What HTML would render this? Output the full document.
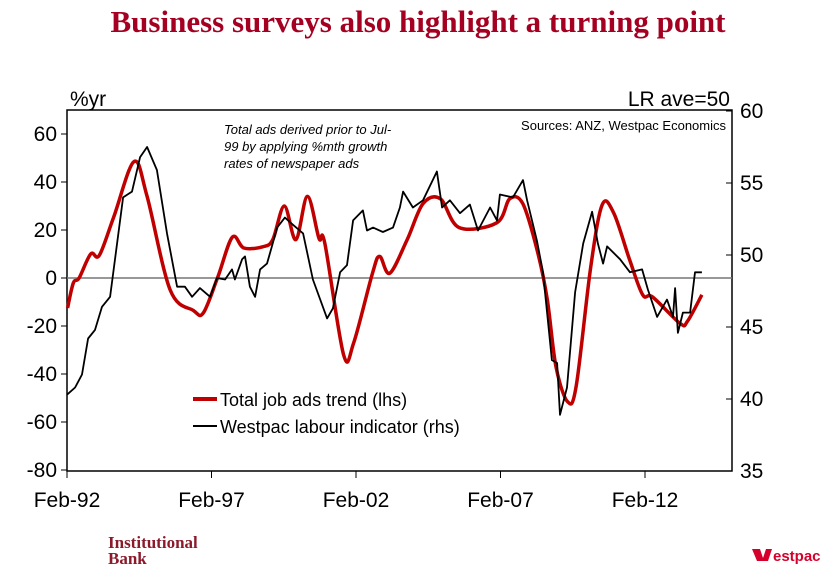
<!DOCTYPE html>
<html><head><meta charset="utf-8">
<style>
body{margin:0;width:836px;height:573px;background:#fff;overflow:hidden;font-family:"Liberation Sans",Arial,sans-serif}
svg{position:absolute;left:0;top:0}
</style></head>
<body>
<svg width="836" height="573" viewBox="0 0 836 573">
<text x="418" y="32" text-anchor="middle" font-family="Liberation Serif,serif" font-weight="bold" font-size="31" fill="#a50021">Business surveys also highlight a turning point</text>
<g id="axes"></g>
<g id="marks"></g>
<text x="70" y="106" font-size="21" fill="#000">%yr</text>
<text x="730" y="106" font-size="21" text-anchor="end" fill="#000">LR ave=50</text>
<text x="726" y="130" font-size="13" text-anchor="end" fill="#000">Sources: ANZ, Westpac Economics</text>
<g font-size="13" font-style="italic" fill="#000">
<text x="224" y="134">Total ads derived prior to Jul-</text>
<text x="224" y="151">99 by applying %mth  growth</text>
<text x="224" y="168">rates of newspaper ads</text>
</g>
<g>
<line x1="193" y1="399" x2="217" y2="399" stroke="#c00000" stroke-width="4"/>
<text x="220" y="406" font-size="18">Total job ads trend (lhs)</text>
<line x1="193" y1="426" x2="217" y2="426" stroke="#000" stroke-width="2"/>
<text x="220" y="433" font-size="18">Westpac labour indicator (rhs)</text>
</g>
<text x="108" y="548" font-family="Liberation Serif,serif" font-weight="bold" font-size="17" fill="#8b1a2b">Institutional</text>
<text x="108" y="564" font-family="Liberation Serif,serif" font-weight="bold" font-size="17" fill="#8b1a2b">Bank</text>
<g>
<path d="M752 549 L760 549 L763 558 L766 549 L772 549 L768 561 L757 561 Z" fill="#d5002b"/>
<text x="773" y="561" font-size="15" font-weight="bold" fill="#d5002b">estpac</text>
</g>
</svg>
<script>
const adsYears=[1992.1,1992.3,1992.5,1992.9,1993.2,1993.7,1994.4,1994.85,1995.65,1996.45,1996.8,1997.3,1997.8,1998.2,1998.85,1999.2,1999.6,2000.0,2000.4,2000.8,2001.0,2001.65,2002.0,2002.65,2002.9,2003.25,2003.85,2004.4,2005.0,2005.65,2006.95,2007.4,2007.85,2008.35,2008.7,2009.0,2009.4,2009.7,2010.2,2010.6,2011.0,2011.55,2012.0,2012.35,2013.3,2013.55,2014.05];
const adsValues=[-12.5,-2,0,10,9.5,25.5,48.5,34,-5,-13.5,-14.5,0.5,17,12.5,13,16,30,16,34,16.5,14.5,-32,-27,2,9,2,16,31,33,21,23,33,31,11.5,-9,-37,-51.5,-45,4.5,30.5,27,7.5,-7,-8,-19,-18,-7];
const labYears=[1992.08,1992.36,1992.6,1992.81,1993.05,1993.29,1993.57,1994.02,1994.33,1994.61,1994.85,1995.19,1995.54,1995.89,1996.16,1996.41,1996.68,1997.03,1997.27,1997.55,1997.79,1997.89,1998.14,1998.24,1998.41,1998.59,1998.76,1999.0,1999.17,1999.35,1999.62,1999.9,2000.25,2000.59,2001.08,2001.28,2001.53,2001.77,2001.98,2002.32,2002.46,2002.67,2003.01,2003.36,2003.6,2003.71,2004.05,2004.4,2004.88,2005.06,2005.33,2005.68,2006.02,2006.3,2006.72,2006.96,2007.06,2007.51,2007.86,2008.0,2008.34,2008.55,2008.86,2009.04,2009.14,2009.38,2009.66,2009.94,2010.25,2010.45,2010.63,2010.77,2011.22,2011.56,2011.98,2012.18,2012.5,2012.84,2013.05,2013.12,2013.22,2013.39,2013.64,2013.81,2014.05];
const labValues=[40.3,40.8,41.7,44.2,44.8,46.4,47.1,54.0,54.4,56.8,57.5,55.9,51.5,47.8,47.8,47.1,47.7,47.1,48.4,48.3,49.0,48.3,49.7,49.9,47.8,47.1,49.0,49.4,50.6,51.9,52.6,52.1,51.5,48.3,45.6,46.3,48.8,49.3,52.4,53.1,51.7,51.9,51.6,51.9,53.3,54.4,53.3,53.8,55.8,53.3,53.8,52.9,53.5,51.7,53.3,52.4,54.2,54.0,55.2,53.8,51.0,48.8,42.7,42.5,38.9,40.8,47.4,50.8,53.0,50.8,49.4,50.6,49.7,48.8,49.0,47.6,45.7,46.9,45.7,47.7,44.6,46.0,46.0,48.8,48.8];
const leftTicks=[60,40,20,0,-20,-40,-60,-80];
const rightTicks=[60,55,50,45,40,35];
const xTickYears=[1992.08,1997.08,2002.08,2007.08,2012.08];
const xTickLabels=["Feb-92","Feb-97","Feb-02","Feb-07","Feb-12"];

const L=67,R=732,T=110,B=471;
const x=y=>L+(y-1992.08)*28.9;
const yl=v=>278-v*2.4;
const yr=v=>255-(v-50)*14.4;
const NS="http://www.w3.org/2000/svg";
function mk(tag,attrs,parent){const e=document.createElementNS(NS,tag);for(const k in attrs)e.setAttribute(k,attrs[k]);parent.appendChild(e);return e;}
function smooth(p){let d='M'+p[0][0].toFixed(1)+' '+p[0][1].toFixed(1);for(let i=0;i<p.length-1;i++){const a=p[i-1]||p[i],b=p[i],c=p[i+1],n=p[i+2]||c;const c1=[b[0]+(c[0]-a[0])/6,b[1]+(c[1]-a[1])/6],c2=[c[0]-(n[0]-b[0])/6,c[1]-(n[1]-b[1])/6];d+=' C'+c1.map(v=>v.toFixed(1)).join(' ')+' '+c2.map(v=>v.toFixed(1)).join(' ')+' '+c[0].toFixed(1)+' '+c[1].toFixed(1);}return d;}
const ax=document.getElementById('axes'),mg=document.getElementById('marks');
let e=mk('rect',{x:L,y:T,width:R-L,height:B-T,fill:'none',stroke:'#000','stroke-width':1.5},ax);


e=mk('line',{x1:L,x2:R,y1:yl(0),y2:yl(0),stroke:'#777','stroke-width':1.5},ax);


leftTicks.forEach(v=>{
 mk('line',{x1:L-6,x2:L,y1:yl(v),y2:yl(v),stroke:'#000'},ax);
 e=mk('text',{x:L-10,y:yl(v)+7,'text-anchor':'end','font-size':21},ax);e.textContent=v;
 
 
});
rightTicks.forEach(v=>{
 mk('line',{x1:R-6,x2:R,y1:yr(v),y2:yr(v),stroke:'#000'},ax);
 e=mk('text',{x:R+8,y:yr(v)+7,'font-size':21},ax);e.textContent=v;
 
 
});
xTickYears.forEach((yv,i)=>{
 mk('line',{x1:x(yv),x2:x(yv),y1:B,y2:B+7,stroke:'#000'},ax);
 e=mk('text',{x:x(yv),y:B+36,'text-anchor':'middle','font-size':21},ax);e.textContent=xTickLabels[i];
 
 
});
e=mk('path',{d:smooth(adsYears.map((yv,i)=>[x(yv),yl(adsValues[i])])),fill:'none',stroke:'#c00000','stroke-width':3.5,'stroke-linejoin':'round'},mg);


e=mk('path',{d:labYears.map((yv,i)=>(i?'L':'M')+x(yv).toFixed(1)+' '+yr(labValues[i]).toFixed(1)).join(' '),fill:'none',stroke:'#000','stroke-width':1.8,'stroke-linejoin':'round'},mg);


</script>
</body></html>
